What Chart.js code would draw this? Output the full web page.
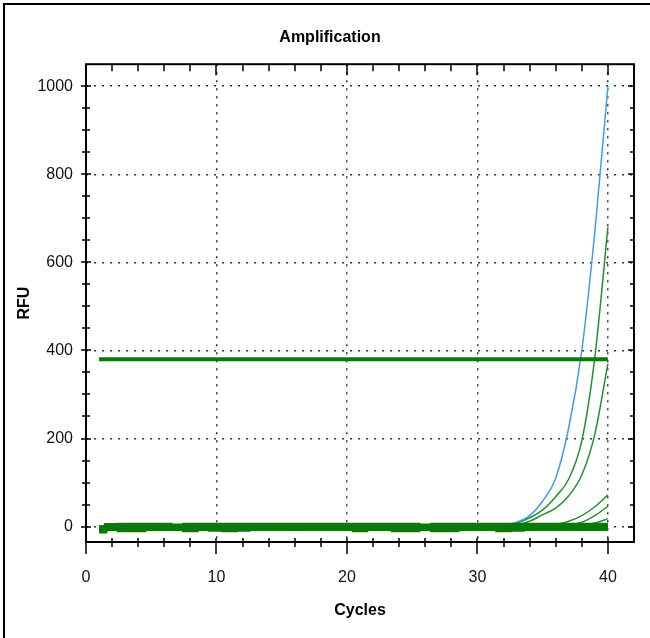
<!DOCTYPE html>
<html>
<head>
<meta charset="utf-8">
<title>Amplification</title>
<script src="https://cdn.jsdelivr.net/npm/chart.js@4.4.0/dist/chart.umd.min.js"></script>
<style>
  html, body { margin: 0; padding: 0; background: #fff; }
</style>
</head>
<body>
<canvas id="chart" width="650" height="638"></canvas>
<script>
// PCR cycles
const cycles = [1, 2, 3, 4, 5, 6, 7, 8, 9, 10, 11, 12, 13, 14, 15, 16, 17, 18, 19, 20,
                21, 22, 23, 24, 25, 26, 27, 28, 29, 30, 31, 32, 33, 34, 35, 36, 37, 38, 39, 40];

// curvas que amplifican (RFU)
const blueRFU = [1, 2, 1, 0, 1, 1, 2, 1, 0, 1, 1, 1, 2, 1, 0, 1, 1, 1, 2, 1,
                 1, 0, 1, 1, 2, 1, 1, 0, 1, 1, 2, 4, 10, 25, 58, 110, 225, 400, 670, 1000];
const green1RFU = [0, 1, 1, 2, 1, 0, 1, 1, 1, 2, 1, 1, 0, 1, 1, 2, 1, 1, 1, 0,
                   1, 1, 2, 1, 1, 1, 0, 1, 2, 1, 2, 3, 8, 20, 38, 68, 108, 195, 385, 680];
const green2RFU = [1, 0, 1, 1, 2, 1, 1, 0, 1, 1, 2, 1, 1, 1, 0, 1, 1, 2, 1, 1,
                   0, 1, 1, 2, 1, 1, 1, 0, 1, 1, 2, 1, 3, 12, 27, 42, 70, 117, 210, 370];
const smallARFU = [0, 1, 1, 0, 1, 2, 1, 1, 0, 1, 1, 1, 0, 2, 1, 1, 1, 0, 1, 1,
                   1, 2, 1, 0, 1, 1, 1, 1, 0, 1, 1, 2, 1, 1, 2, 5, 12, 25, 45, 72];
const smallBRFU = [1, 1, 0, 1, 1, 1, 2, 1, 1, 0, 1, 1, 1, 0, 1, 2, 1, 1, 1, 0,
                   1, 1, 1, 2, 1, 0, 1, 1, 1, 1, 2, 1, 1, 1, 1, 2, 4, 10, 25, 46];
const smallCRFU = [0, 1, 1, 1, 0, 1, 1, 2, 1, 1, 1, 0, 1, 1, 1, 1, 2, 1, 0, 1,
                   1, 1, 1, 1, 0, 1, 2, 1, 1, 1, 0, 1, 1, 1, 1, 1, 2, 3, 8, 18];

// curvas negativas (banda verde cerca de 0)
const baseTopRFU = [-1, 4, 5, 5, 5, 5, 3, 5, 5, 5, 5, 5, 5, 5, 5, 5, 5, 5, 5, 5,
                    5, 5, 5, 5, 5, 3, 5, 5, 5, 5, 5, 5, 5, 5, 5, 5, 5, 5, 5, 5];
const baseMidRFU = [-6, 0, 1, 0, 0, 1, 0, 0, 1, 0, 0, 1, 0, 0, 0, 1, 0, 0, 0, 1,
                    0, 0, 1, 0, 0, 0, 1, 0, 0, 0, 1, 0, 0, 1, 0, 0, 0, 1, 0, 1];
const baseMid2RFU = [-9, -4, -4, -5, -4, -4, -4, -4, -5, -4, -4, -5, -4, -4, -4, -4, -4, -4, -4, -4,
                     -5, -4, -4, -5, -5, -4, -5, -5, -4, -4, -4, -5, -5, -4, -4, -4, -4, -4, -4, -4];
const baseLowRFU = [-12, -6, -9, -9, -6, -6, -6, -9, -6, -8, -9, -8, -6, -6, -6, -6, -6, -6, -6, -6,
                    -9, -6, -6, -9, -9, -6, -9, -9, -6, -6, -6, -9, -8, -6, -6, -6, -6, -6, -6, -6];

// umbral
const thresholdCycles = [1, 40];
const thresholdRFU = [380, 380];

// ejes
const xTickValues = [0, 10, 20, 30, 40];
const yTickValues = [0, 200, 400, 600, 800, 1000];
const xMinorStep = 2;
const yMinorStep = 50;

const FONT = "'Liberation Sans Narrow', 'Arial Narrow', 'Liberation Sans', Arial, sans-serif";
Chart.defaults.font.family = FONT;
Chart.defaults.color = "#000";

function series(values, color, width, stepped) {
    return {
        data: values.map((v, i) => ({ x: cycles[i], y: v })),
        borderColor: color,
        borderWidth: width,
        pointRadius: 0,
        cubicInterpolationMode: "monotone",
        stepped: stepped || false,
        fill: false,
    };
}

// marco, borde exterior y marcas de los ejes
const frameAndTicks = {
    id: "frameAndTicks",
    beforeDraw(chart) {
        const ctx = chart.ctx;
        ctx.save();
        ctx.fillStyle = "#fff";
        ctx.fillRect(0, 0, chart.width, chart.height);
        ctx.strokeStyle = "#000";
        ctx.lineWidth = 2;
        ctx.beginPath();
        ctx.moveTo(4, chart.height);
        ctx.lineTo(4, 4);
        ctx.lineTo(chart.width, 4);
        ctx.stroke();
        ctx.restore();
    },
    afterDatasetsDraw(chart) {
        const { ctx, chartArea: a, scales: { x, y } } = chart;
        ctx.save();
        ctx.strokeStyle = "#000";
        ctx.lineWidth = 2;
        ctx.strokeRect(a.left, a.top, a.right - a.left, a.bottom - a.top);
        ctx.lineWidth = 1.5;
        ctx.beginPath();
        for (let v = 0; v <= 40; v += xMinorStep) {
            const px = Math.round(x.getPixelForValue(v));
            const major = v % 10 === 0;
            ctx.moveTo(px, a.bottom - 4);
            ctx.lineTo(px, a.bottom + (major ? 12 : 5));
            ctx.moveTo(px, a.top);
            ctx.lineTo(px, a.top + (major ? 11 : 7));
        }
        for (let v = 0; v <= 1000; v += yMinorStep) {
            const py = Math.round(y.getPixelForValue(v));
            const major = v % 200 === 0;
            ctx.moveTo(a.left - (major ? 5 : 4), py);
            ctx.lineTo(a.left + (major ? 5 : 4), py);
            ctx.moveTo(a.right - (major ? 6 : 4), py);
            ctx.lineTo(a.right, py);
        }
        ctx.stroke();
        ctx.restore();
    },
};

const bandGreen = "#087a08";
const curveGreen = "#23922a";

new Chart(document.getElementById("chart"), {
    type: "line",
    data: {
        datasets: [
            series(baseTopRFU, bandGreen, 3.5, "middle"),
            series(baseMidRFU, bandGreen, 3.5, "middle"),
            series(baseMid2RFU, bandGreen, 3.5, "middle"),
            series(baseLowRFU, bandGreen, 3.5, "middle"),
            {
                data: thresholdCycles.map((c, i) => ({ x: c, y: thresholdRFU[i] })),
                borderColor: "#0a780a",
                borderWidth: 4,
                pointRadius: 0,
                fill: false,
            },
            series(blueRFU, "#3d9df5", 1.5),
            series(green1RFU, curveGreen, 1.5),
            series(green2RFU, curveGreen, 1.5),
            series(smallARFU, curveGreen, 1.5),
            series(smallBRFU, curveGreen, 1.5),
            series(smallCRFU, curveGreen, 1.5),
        ],
    },
    options: {
        responsive: false,
        animation: false,
        layout: { padding: { left: 26, right: 16, top: 0, bottom: 0 } },
        plugins: {
            legend: { display: false },
            tooltip: { enabled: false },
            title: {
                display: true,
                text: "Amplification",
                font: { size: 16, weight: "bold" },
                color: "#000",
                padding: { top: 28, bottom: 17 },
            },
        },
        scales: {
            x: {
                type: "linear",
                min: 0,
                max: 42,
                afterFit: (s) => { s.height = 96; },
                afterBuildTicks: (s) => { s.ticks = xTickValues.map((v) => ({ value: v })); },
                grid: { color: "#333", lineWidth: 1.5, drawTicks: false },
                border: { display: false, dash: [2, 6] },
                ticks: { padding: 26, font: { size: 16 }, color: "#111", maxRotation: 0, callback: (v) => String(v) },
                title: {
                    display: true,
                    text: "Cycles",
                    font: { size: 16, weight: "bold" },
                    padding: { top: 0, bottom: 18 },
                },
            },
            y: {
                type: "linear",
                min: -35,
                max: 1050,
                afterFit: (s) => { s.width = 60; },
                afterBuildTicks: (s) => { s.ticks = yTickValues.map((v) => ({ value: v })); },
                grid: { color: "#333", lineWidth: 1.5, drawTicks: false },
                border: { display: false, dash: [2, 6] },
                ticks: { padding: 13, font: { size: 16 }, color: "#111", callback: (v) => String(v) },
                title: {
                    display: true,
                    text: "RFU",
                    font: { size: 16, weight: "bold" },
                    padding: { top: -11, bottom: 0 },
                },
            },
        },
    },
    plugins: [frameAndTicks],
});
</script>
</body>
</html>
